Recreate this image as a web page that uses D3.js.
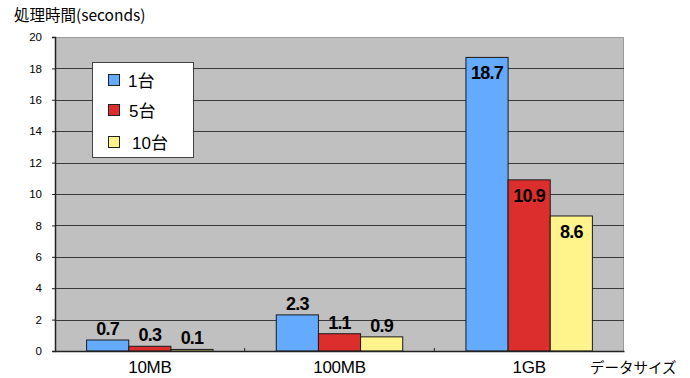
<!DOCTYPE html>
<html>
<head>
<meta charset="utf-8">
<script src="https://cdn.jsdelivr.net/npm/d3@7"></script>
<style>
  html, body { margin: 0; padding: 0; background: #fff; }
  svg { display: block; font-family: "Liberation Sans", Arial, "Noto Sans CJK JP", sans-serif; }
</style>
</head>
<body>
<svg id="chart" width="690" height="378"></svg>
<script>
// Processing time by data size and number of machines
const categories = ["10MB", "100MB", "1GB"];
const seriesNames = ["1台", "5台", "10台"];
const series1 = [0.7, 2.3, 18.7];
const series5 = [0.3, 1.1, 10.9];
const series10 = [0.1, 0.9, 8.6];
const yTicks = [0, 2, 4, 6, 8, 10, 12, 14, 16, 18, 20];
const colors = ["#64aaff", "#dd2e2e", "#fff38c"];

const seriesValues = [series1, series5, series10];

const svg = d3.select("#chart");
const margin = { left: 55, right: 66, top: 37, bottom: 27 };
const W = 690, H = 378;
const plotW = W - margin.left - margin.right;
const plotH = H - margin.top - margin.bottom;

const x = d3.scaleBand().domain(categories).range([margin.left, margin.left + plotW]).paddingInner(0).paddingOuter(0);
const xs = d3.scaleBand().domain(seriesNames).range([0, x.bandwidth()]).paddingInner(0).paddingOuter(0.75);
const y = d3.scaleLinear().domain([0, 20]).range([margin.top + plotH, margin.top]);

// plot background
svg.append("rect")
  .attr("x", margin.left).attr("y", margin.top)
  .attr("width", plotW).attr("height", plotH)
  .attr("fill", "#c0c0c0");
// light frame on top and right
svg.append("path")
  .attr("d", `M${margin.left},${margin.top + 0.5}H${margin.left + plotW - 0.5}V${margin.top + plotH}`)
  .attr("fill", "none").attr("stroke", "#9a9a9a").attr("stroke-width", 1);

// gridlines
svg.append("g").selectAll("line")
  .data(yTicks.filter(d => d > 0 && d < 20))
  .join("line")
  .attr("x1", margin.left).attr("x2", margin.left + plotW)
  .attr("y1", d => Math.round(y(d)) + 0.5).attr("y2", d => Math.round(y(d)) + 0.5)
  .attr("stroke", "#3a3a3a").attr("stroke-width", 1.2);

// y axis
const yAxis = svg.append("g")
  .attr("transform", `translate(${margin.left},0)`)
  .call(d3.axisLeft(y).tickValues(yTicks).tickSize(3).tickPadding(10).tickFormat(d3.format("d")));
yAxis.select(".domain").attr("stroke", "#222").attr("stroke-width", 1.5);
yAxis.selectAll(".tick line").attr("stroke", "#222");
yAxis.selectAll("text").attr("font-size", 11.5).attr("fill", "#000")
  .attr("font-family", "'Liberation Sans', Arial, sans-serif");

// bars
const groups = svg.append("g").selectAll("g")
  .data(categories)
  .join("g")
  .attr("transform", d => `translate(${x(d)},0)`);

groups.selectAll("rect")
  .data((c, i) => seriesNames.map((s, j) => ({ s, j, v: seriesValues[j][i] })))
  .join("rect")
  .attr("x", d => xs(d.s))
  .attr("y", d => y(d.v))
  .attr("width", xs.bandwidth())
  .attr("height", d => y(0) - y(d.v))
  .attr("fill", d => colors[d.j])
  .attr("stroke", "#1a1a1a").attr("stroke-width", 1);

// value labels
groups.selectAll("text.val")
  .data((c, i) => seriesNames.map((s, j) => ({ s, j, v: seriesValues[j][i] })))
  .join("text")
  .attr("class", "val")
  .attr("x", d => xs(d.s) + xs.bandwidth() / 2)
  .attr("y", d => d.v > 5 ? y(d.v) + 22 : y(d.v) - 5)
  .attr("text-anchor", "middle")
  .attr("font-size", 18).attr("font-weight", "bold")
  .attr("letter-spacing", -0.8)
  .text(d => d3.format(".1f")(d.v));

// x axis
const xAxis = svg.append("g")
  .attr("transform", `translate(0,${margin.top + plotH})`)
  .call(d3.axisBottom(x).tickSize(0).tickPadding(10));
xAxis.select(".domain").attr("stroke", "#222").attr("stroke-width", 1.5);
xAxis.selectAll("text").attr("font-size", 17).attr("fill", "#000").attr("letter-spacing", -0.3)
  .attr("font-family", "'Liberation Sans', Arial, sans-serif");
// tick marks between categories
svg.append("g").selectAll("line")
  .data(categories.slice(1))
  .join("line")
  .attr("x1", d => x(d)).attr("x2", d => x(d))
  .attr("y1", margin.top + plotH - 3).attr("y2", margin.top + plotH + 1)
  .attr("stroke", "#222");

// title and axis name
svg.append("text")
  .attr("x", 14).attr("y", 21)
  .attr("font-size", 15.5)
  .attr("font-family", "'Noto Sans CJK JP', sans-serif")
  .text("処理時間(seconds)");
svg.append("text")
  .attr("x", 590).attr("y", 373)
  .attr("font-size", 14.5)
  .attr("font-family", "'Noto Sans CJK JP', sans-serif")
  .text("データサイズ");

// legend
const legend = svg.append("g").attr("transform", "translate(92,62)");
legend.append("rect")
  .attr("x", 0.5).attr("y", 0.5).attr("width", 101).attr("height", 95)
  .attr("fill", "#fff").attr("stroke", "#444").attr("stroke-width", 1);
const items = legend.selectAll("g.item")
  .data(seriesNames)
  .join("g")
  .attr("class", "item")
  .attr("transform", (d, i) => `translate(0,${[18, 48, 80][i]})`);
items.append("rect")
  .attr("x", 16.5).attr("y", -5.5).attr("width", 11).attr("height", 11)
  .attr("fill", (d, i) => colors[i]).attr("stroke", "#222");
items.append("text")
  .attr("x", (d, i) => [36, 37, 40][i]).attr("y", 6.5)
  .attr("font-size", 17)
  .attr("font-family", "'Liberation Sans', Arial, 'Noto Sans CJK JP', sans-serif")
  .text(d => d);
</script>
</body>
</html>
